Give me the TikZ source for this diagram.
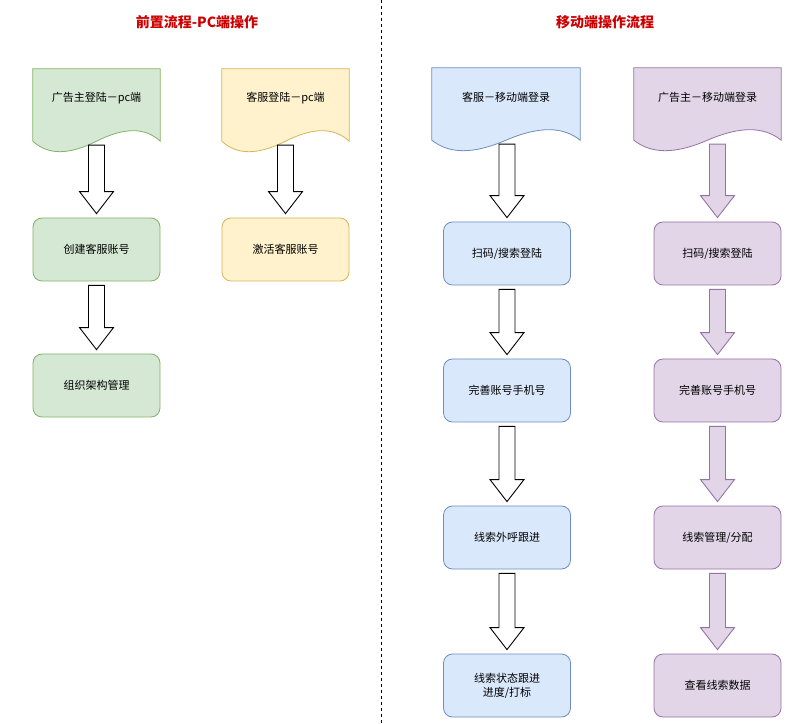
\documentclass[tikz,border=0pt]{standalone}
\usepackage{fontspec}
\setmainfont{Noto Sans CJK SC}
\usetikzlibrary{calc,positioning}
\definecolor{gfill}{HTML}{D5E8D4}\definecolor{gline}{HTML}{82B366}
\definecolor{yfill}{HTML}{FFF2CC}\definecolor{yline}{HTML}{D6B656}
\definecolor{bfill}{HTML}{DAE8FC}\definecolor{bline}{HTML}{6C8EBF}
\definecolor{pfill}{HTML}{E1D5E7}\definecolor{pline}{HTML}{9673A6}
\definecolor{ttl}{HTML}{CC0000}
% document shape with wavy bottom
\newcommand\docnode[6]{%
  \node[minimum width=#5pt, minimum height=72pt, inner sep=0] (#2) at (#3,#4-36) {};
  \draw[#1] (#2.north west) -- (#2.north east) -- (#2.south east)
    .. controls +({-0.12*#5},14) and +({0.22*#5},14) .. (#2.south)
    .. controls +({-0.22*#5},-14) and +({0.12*#5},-14) .. (#2.south west) -- cycle;
  \node[txt] at (#3,#4-29) {#6};}
% hollow block arrow between two nodes
\newcommand\bigarrow[3]{%
  \draw[#1] let \p1=(#2.south), \p2=(#3.north) in
    (\x2-8pt,\y1-4pt) -- (\x2+8pt,\y1-4pt) -- (\x2+8pt,\y2+26pt) -- (\x2+17pt,\y2+26pt)
    -- (\x2,\y2+4pt) -- (\x2-17pt,\y2+26pt) -- (\x2-8pt,\y2+26pt) -- cycle;}
\begin{document}
\begin{tikzpicture}[x=1pt,y=1pt,
  txt/.style={font=\fontsize{11}{14}\selectfont, align=center},
  box/.style={txt, rounded corners=9pt, minimum width=127pt, minimum height=63pt, line width=0.8pt},
  gbox/.style={box, draw=gline, fill=gfill},
  ybox/.style={box, draw=yline, fill=yfill},
  bbox/.style={box, draw=bline, fill=bfill},
  pbox/.style={box, draw=pline, fill=pfill},
  harrow/.style={draw=black, fill=white, line width=0.9pt},
  parrow/.style={draw=pline, fill=pfill, line width=0.9pt},
  title/.style={font=\fontsize{14}{16}\selectfont\bfseries, text=ttl}]
\useasboundingbox (0,0) rectangle (791,723);
\draw[dashed, line width=0.7pt] (381,0) -- (381,723);
\node[title] (t1) at (197,701) {前置流程-PC端操作};
\node[title] (t2) at (605,701) {移动端操作流程};
% PC side
\docnode{draw=gline, fill=gfill, line width=0.8pt}{g0}{96.5}{654}{127}{广告主登陆－pc端}
\docnode{draw=yline, fill=yfill, line width=0.8pt}{y0}{285.5}{654}{127}{客服登陆－pc端}
\node[gbox] (g1) at (96.5,473.5) {创建客服账号};
\node[gbox] (g2) at (96.5,337.5) {组织架构管理};
\node[ybox] (y1) at (285.5,473.5) {激活客服账号};
\bigarrow{harrow}{g0}{g1}
\bigarrow{harrow}{g1}{g2}
\bigarrow{harrow}{y0}{y1}
% mobile side
\docnode{draw=bline, fill=bfill, line width=0.8pt}{b0}{506}{655}{148}{客服－移动端登录}
\docnode{draw=pline, fill=pfill, line width=0.8pt}{p0}{707.5}{655}{147}{广告主－移动端登录}
\node[bbox] (b1) at (507,469.5) {扫码/搜索登陆};
\node[bbox] (b2) at (507,332.5) {完善账号手机号};
\node[bbox] (b3) at (507,185.5) {线索外呼跟进};
\node[bbox] (b4) at (507,37.5) {线索状态跟进\\进度/打标};
\node[pbox] (p1) at (717.5,469.5) {扫码/搜索登陆};
\node[pbox] (p2) at (717.5,332.5) {完善账号手机号};
\node[pbox] (p3) at (717.5,185.5) {线索管理/分配};
\node[pbox] (p4) at (717.5,37.5) {查看线索数据};
\bigarrow{harrow}{b0}{b1}
\bigarrow{harrow}{b1}{b2}
\bigarrow{harrow}{b2}{b3}
\bigarrow{harrow}{b3}{b4}
\bigarrow{parrow}{p0}{p1}
\bigarrow{parrow}{p1}{p2}
\bigarrow{parrow}{p2}{p3}
\bigarrow{parrow}{p3}{p4}
\end{tikzpicture}
\end{document}
